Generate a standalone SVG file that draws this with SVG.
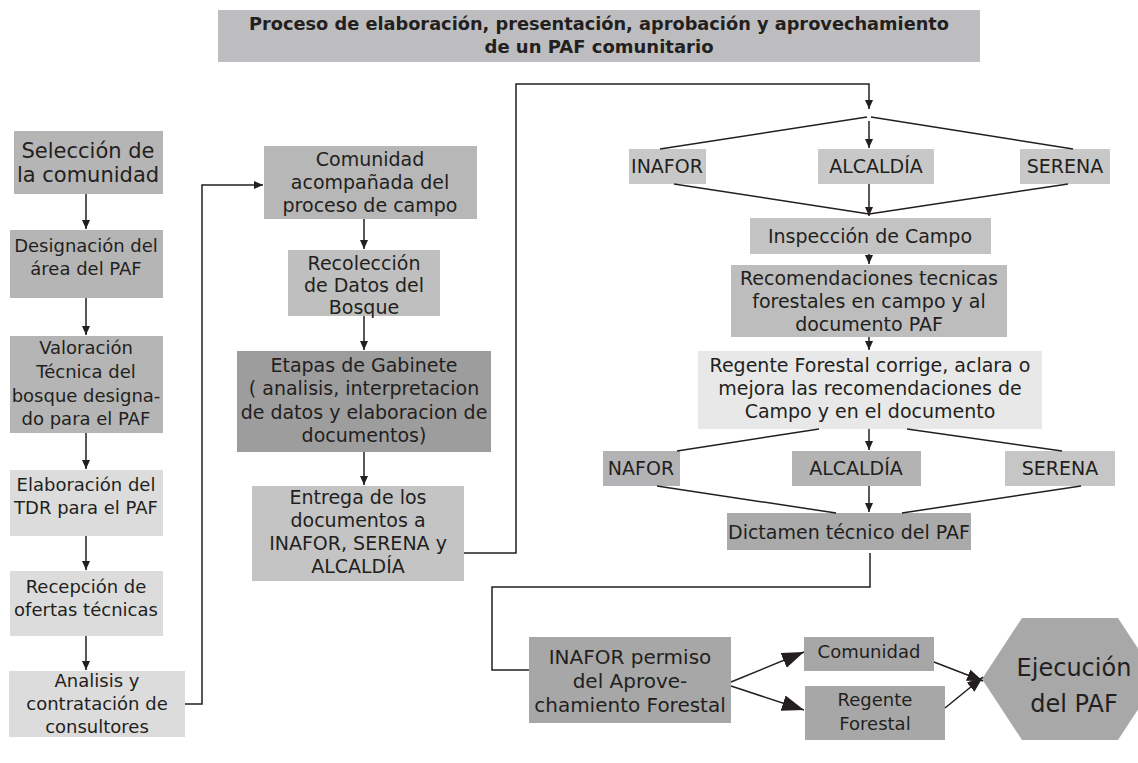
<svg xmlns="http://www.w3.org/2000/svg" width="1138" height="763" viewBox="0 0 1138 763">
<style>
  text { font-family: "DejaVu Sans", "Noto Sans", sans-serif; fill: #231f20; text-anchor: middle; font-size: 18px; }
  .m19 { font-size: 19px; }
  .big { font-size: 21px; }
  .b20 { font-size: 20px; }
  .hex { font-size: 24px; }
  .title { font-weight: bold; font-size: 18px; }
  .ln { fill: none; stroke: #231f20; stroke-width: 1.5; }
  .a { marker-end: url(#ah); }
  .A { marker-end: url(#AH); }
  .m { marker-end: url(#mh); }
  .g1 { fill: #b5b5b5; }
  .g2 { fill: #dcdcdc; }
</style>
<defs>
  <marker id="ah" markerUnits="userSpaceOnUse" markerWidth="10" markerHeight="10" refX="9" refY="4" orient="auto">
    <path d="M0,0 L9,4 L0,8 z" fill="#231f20"/>
  </marker>
  <marker id="AH" markerUnits="userSpaceOnUse" markerWidth="24" markerHeight="20" refX="22" refY="8" orient="auto">
    <path d="M0,0 L22,8 L0,16 z" fill="#231f20"/>
  </marker>
  <marker id="mh" markerUnits="userSpaceOnUse" markerWidth="18" markerHeight="14" refX="16" refY="6" orient="auto">
    <path d="M0,0 L16,6 L0,12 z" fill="#231f20"/>
  </marker>
</defs>

<g id="title">
  <rect x="218" y="10" width="762" height="52" fill="#bdbdbf"/>
  <text class="title" x="599" y="30" textLength="700" lengthAdjust="spacingAndGlyphs">Proceso de elaboración, presentación, aprobación y aprovechamiento</text>
  <text class="title" x="599" y="53" textLength="229" lengthAdjust="spacingAndGlyphs">de un PAF comunitario</text>
</g>

<!-- left column -->
<g id="seleccion">
  <rect class="g1" x="14" y="131" width="149" height="63"/>
  <text class="big" x="88" y="158">Selección de</text>
  <text class="big" x="88" y="182">la comunidad</text>
</g>
<g id="designacion">
  <rect class="g1" x="10" y="230" width="153" height="68"/>
  <text x="86" y="252">Designación del</text>
  <text x="86" y="275">área del PAF</text>
</g>
<g id="valoracion">
  <rect class="g1" x="10" y="336" width="153" height="97"/>
  <text x="86" y="354">Valoración</text>
  <text x="86" y="378">Técnica del</text>
  <text x="86" y="402">bosque designa-</text>
  <text x="86" y="425">do para el PAF</text>
</g>
<g id="elaboracion">
  <rect class="g2" x="10" y="470" width="153" height="66"/>
  <text x="86" y="491">Elaboración del</text>
  <text x="86" y="514">TDR para el PAF</text>
</g>
<g id="recepcion">
  <rect class="g2" x="10" y="571" width="153" height="65"/>
  <text x="86" y="593">Recepción de</text>
  <text x="86" y="616">ofertas técnicas</text>
</g>
<g id="analisis">
  <rect class="g2" x="9" y="671" width="176" height="66"/>
  <text x="97" y="687">Analisis y</text>
  <text x="97" y="710">contratación de</text>
  <text x="97" y="733">consultores</text>
</g>

<!-- middle column -->
<g id="comunidad-campo">
  <rect x="264" y="146" width="213" height="73" fill="#b7b7b7"/>
  <text class="m19" x="370" y="166">Comunidad</text>
  <text class="m19" x="370" y="189">acompañada del</text>
  <text class="m19" x="370" y="212">proceso de campo</text>
</g>
<g id="recoleccion">
  <rect x="288" y="250" width="152" height="66" fill="#bfbfbf"/>
  <text class="m19" x="364" y="270">Recolección</text>
  <text class="m19" x="364" y="292">de Datos del</text>
  <text class="m19" x="364" y="314">Bosque</text>
</g>
<g id="gabinete">
  <rect x="237" y="351" width="254" height="101" fill="#9d9d9d"/>
  <text class="m19" x="364" y="372">Etapas de Gabinete</text>
  <text class="m19" x="364" y="395">( analisis, interpretacion</text>
  <text class="m19" x="364" y="419">de datos y elaboracion de</text>
  <text class="m19" x="364" y="442">documentos)</text>
</g>
<g id="entrega">
  <rect x="252" y="486" width="212" height="95" fill="#c4c4c4"/>
  <text class="m19" x="358" y="504">Entrega de los</text>
  <text class="m19" x="358" y="527">documentos a</text>
  <text class="m19" x="358" y="550">INAFOR, SERENA y</text>
  <text class="m19" x="358" y="573">ALCALDÍA</text>
</g>

<!-- right column -->
<g id="inafor1">
  <rect x="629" y="149" width="77" height="35" fill="#c8c8c8"/>
  <text class="m19" x="667" y="173">INAFOR</text>
</g>
<g id="alcaldia1">
  <rect x="818" y="149" width="116" height="35" fill="#c8c8c8"/>
  <text class="m19" x="876" y="173">ALCALDÍA</text>
</g>
<g id="serena1">
  <rect x="1020" y="149" width="90" height="35" fill="#c8c8c8"/>
  <text class="m19" x="1065" y="173">SERENA</text>
</g>
<g id="inspeccion">
  <rect x="750" y="218" width="241" height="36" fill="#c3c3c3"/>
  <text class="m19" x="870" y="243">Inspección de Campo</text>
</g>
<g id="recomendaciones">
  <rect x="731" y="265" width="276" height="72" fill="#bdbdbd"/>
  <text class="m19" x="869" y="285">Recomendaciones tecnicas</text>
  <text class="m19" x="869" y="308">forestales en campo y al</text>
  <text class="m19" x="869" y="331">documento PAF</text>
</g>
<g id="regente-corrige">
  <rect x="698" y="351" width="344" height="78" fill="#e8e8e8"/>
  <text class="m19" x="870" y="372">Regente Forestal corrige, aclara o</text>
  <text class="m19" x="870" y="395">mejora las recomendaciones de</text>
  <text class="m19" x="870" y="418">Campo y en el documento</text>
</g>
<g id="nafor2">
  <rect x="603" y="451" width="77" height="35" fill="#b3b3b6"/>
  <text class="m19" x="641" y="475">NAFOR</text>
</g>
<g id="alcaldia2">
  <rect x="792" y="451" width="129" height="35" fill="#b3b3b3"/>
  <text class="m19" x="856" y="475">ALCALDÍA</text>
</g>
<g id="serena2">
  <rect x="1005" y="451" width="110" height="35" fill="#c6c6c6"/>
  <text class="m19" x="1060" y="475">SERENA</text>
</g>
<g id="dictamen">
  <rect x="727" y="513" width="244" height="37" fill="#aaaaaa"/>
  <text class="m19" x="849" y="539">Dictamen técnico del PAF</text>
</g>

<!-- bottom -->
<g id="inafor-permiso">
  <rect x="529" y="637" width="202" height="86" fill="#a7a7a7"/>
  <text class="b20" x="630" y="664">INAFOR permiso</text>
  <text class="b20" x="630" y="688">del Aprove-</text>
  <text class="b20" x="630" y="712">chamiento Forestal</text>
</g>
<g id="comunidad">
  <rect x="804" y="637" width="130" height="34" fill="#a7a7a7"/>
  <text x="869" y="658">Comunidad</text>
</g>
<g id="regente">
  <rect x="805" y="686" width="140" height="54" fill="#a7a7a7"/>
  <text x="875" y="706">Regente</text>
  <text x="875" y="730">Forestal</text>
</g>
<g id="ejecucion">
  <polygon points="982,679 1022,618 1118,618 1158,679 1118,740 1022,740" fill="#a8a8a8"/>
  <text class="hex" x="1074" y="676">Ejecución</text>
  <text class="hex" x="1074" y="712">del PAF</text>
</g>

<g id="connectors">
  <!-- left column -->
  <line class="ln a" x1="86" y1="194" x2="86" y2="229"/>
  <line class="ln a" x1="86" y1="298" x2="86" y2="335"/>
  <line class="ln a" x1="86" y1="433" x2="86" y2="469"/>
  <line class="ln a" x1="86" y1="536" x2="86" y2="570"/>
  <line class="ln a" x1="86" y1="636" x2="86" y2="670"/>
  <polyline class="ln a" points="185,704 202,704 202,185 263,185"/>
  <!-- middle column -->
  <line class="ln a" x1="364" y1="219" x2="364" y2="249"/>
  <line class="ln a" x1="364" y1="316" x2="364" y2="350"/>
  <line class="ln a" x1="364" y1="452" x2="364" y2="485"/>
  <polyline class="ln a" points="464,553 516,553 516,84 869,84 869,109"/>
  <!-- first split -->
  <line class="ln" x1="867" y1="117" x2="660" y2="149"/>
  <line class="ln" x1="871" y1="117" x2="1073" y2="149"/>
  <line class="ln a" x1="869" y1="121" x2="869" y2="148"/>
  <line class="ln" x1="674" y1="184" x2="869" y2="214"/>
  <line class="ln" x1="1068" y1="184" x2="869" y2="214"/>
  <line class="ln a" x1="869" y1="184" x2="869" y2="216"/>
  <line class="ln a" x1="869" y1="254" x2="869" y2="264"/>
  <line class="ln a" x1="869" y1="337" x2="869" y2="350"/>
  <!-- second split -->
  <line class="ln" x1="819" y1="429" x2="677" y2="451"/>
  <line class="ln" x1="907" y1="429" x2="1062" y2="451"/>
  <line class="ln a" x1="869" y1="429" x2="869" y2="450"/>
  <line class="ln" x1="657" y1="486" x2="836" y2="513"/>
  <line class="ln" x1="1081" y1="486" x2="902" y2="513"/>
  <line class="ln a" x1="869" y1="486" x2="869" y2="512"/>
  <!-- to permit -->
  <polyline class="ln" points="870,553 870,587 492,587 492,670 529,670"/>
  <line class="ln A" x1="731" y1="682" x2="804" y2="652"/>
  <line class="ln A" x1="731" y1="686" x2="804" y2="710"/>
  <line class="ln m" x1="934" y1="662" x2="983" y2="681"/>
  <line class="ln m" x1="945" y1="708" x2="983" y2="677"/>
</g>
</svg>
